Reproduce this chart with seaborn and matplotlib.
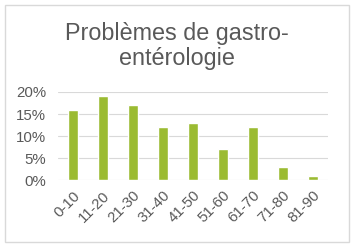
import matplotlib
matplotlib.use("Agg")
import matplotlib.pyplot as plt
import seaborn as sns
import pandas as pd
from matplotlib.patches import Rectangle
from matplotlib.ticker import FuncFormatter

categories = ["0-10", "11-20", "21-30", "31-40", "41-50", "51-60", "61-70", "71-80", "81-90"]
values = [16, 19, 17, 12, 13, 7, 12, 3, 1]
yticks = [0, 5, 10, 15, 20]
title_lines = ["Problèmes de gastro-", "entérologie"]

sns.set_theme(style="white")
plt.rcParams['font.family'] = ['Liberation Sans', 'DejaVu Sans']

W, H = 356, 249
fig = plt.figure(figsize=(W / 100, H / 100), dpi=100)
fig.patch.set_facecolor("white")

# outer border
fig.patches.append(Rectangle((5 / W, (H - 242) / H), (349 - 5) / W, (242 - 5) / H,
                             transform=fig.transFigure, fill=False,
                             edgecolor="#D9D9D9", linewidth=1.0))

ax = fig.add_axes([58 / W, (H - 180) / H, (328 - 58) / W, (180 - 92) / H])
df = pd.DataFrame({"cat": categories, "val": values})
sns.barplot(data=df, x="cat", y="val", color="#9BBB32", width=0.33,
            saturation=1, ax=ax, zorder=3)

ax.set_ylim(0, 20)
ax.set_xlim(-0.5, len(categories) - 0.5)
ax.set_yticks(yticks)
ax.yaxis.set_major_formatter(FuncFormatter(lambda v, p: f"{int(v)}%"))
ax.set_xlabel("")
ax.set_ylabel("")
for s in ax.spines.values():
    s.set_visible(False)
ax.grid(axis="y", color="#D9D9D9", linewidth=0.8, zorder=0)
ax.set_axisbelow(True)
ax.tick_params(axis="both", length=0, colors="#595959", labelsize=10.8)
ax.tick_params(axis="y", pad=8.5)
ax.tick_params(axis="x", pad=6)
plt.setp(ax.get_xticklabels(), rotation=45, ha="right", rotation_mode="anchor")

fig.text(176.5 / W, 1 - 40 / H, title_lines[0], ha="center", va="baseline",
         fontsize=16.8, color="#595959")
fig.text(176.5 / W, 1 - 65 / H, title_lines[1], ha="center", va="baseline",
         fontsize=16.8, color="#595959")

fig.savefig("out.png", dpi=100, facecolor="white")
